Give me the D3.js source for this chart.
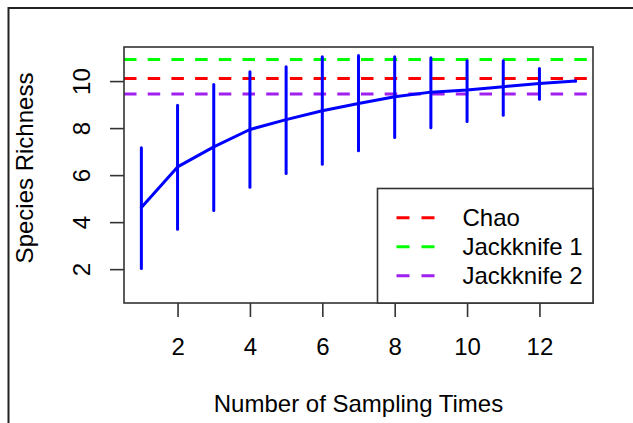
<!DOCTYPE html>
<html>
<head>
<meta charset="utf-8">
<script src="https://cdn.jsdelivr.net/npm/d3@7"></script>
<style>
  body { margin: 0; background: #fff; }
  svg text { font-family: "Liberation Sans", Arial, sans-serif; fill: #000; }
</style>
</head>
<body>
<svg id="chart" width="633" height="423"></svg>
<script>
// species accumulation: mean richness and error bar ends per sampling time
const samples = [1, 2, 3, 4, 5, 6, 7, 8, 9, 10, 11, 12, 13];
const richness = [4.62, 6.35, 7.2, 7.94, 8.36, 8.74, 9.05, 9.33, 9.53, 9.62, 9.76, 9.9, 10.0];
const lower = [2.03, 3.7, 4.5, 5.48, 6.07, 6.46, 7.04, 7.6, 8.02, 8.28, 8.55, 9.23, 10.0];
const upper = [7.16, 8.97, 9.86, 10.4, 10.61, 11.03, 11.09, 11.03, 10.99, 10.86, 10.86, 10.54, 10.0];

// richness estimators drawn as horizontal dashed lines
const estimators = ["Chao", "Jackknife 1", "Jackknife 2"];
const estimates = [10.11, 10.92, 9.45];
const estColors = ["#ff0000", "#00ff00", "#a020f0"];

const xTicks = [2, 4, 6, 8, 10, 12];
const yTicks = [2, 4, 6, 8, 10];

const svg = d3.select("#chart");
const fontSize = 24;
const box = { left: 124, right: 593, top: 47, bottom: 303 };

// R style 4% padding on x
const x = d3.scaleLinear()
    .domain([0.52, 13.48])
    .range([box.left, box.right]);

const y = d3.scaleLinear()
    .domain([0.56, 11.45])
    .range([box.bottom, box.top]);

// outer frame (runs off the right and bottom edges)
svg.append("rect")
    .attr("x", 8.5).attr("y", 8)
    .attr("width", 700).attr("height", 500)
    .attr("fill", "none")
    .attr("stroke", "#222")
    .attr("stroke-width", 2);

svg.append("clipPath").attr("id", "plotclip")
    .append("rect")
    .attr("x", box.left).attr("y", box.top)
    .attr("width", box.right - box.left)
    .attr("height", box.bottom - box.top);

const plot = svg.append("g").attr("clip-path", "url(#plotclip)");

// estimator lines
plot.selectAll(".est")
    .data(estimates)
    .enter()
    .append("line")
    .attr("class", "est")
    .attr("x1", box.left).attr("x2", box.right)
    .attr("y1", d => y(d)).attr("y2", d => y(d))
    .attr("stroke", (d, i) => estColors[i])
    .attr("stroke-width", 3)
    .attr("stroke-dasharray", "12.5,11.2");

// error bars
plot.selectAll(".bar")
    .data(samples)
    .enter()
    .append("line")
    .attr("class", "bar")
    .attr("x1", d => x(d)).attr("x2", d => x(d))
    .attr("y1", (d, i) => y(lower[i]))
    .attr("y2", (d, i) => y(upper[i]))
    .attr("stroke", "#0000ff")
    .attr("stroke-width", 3)
    .attr("stroke-linecap", "round");

// accumulation curve
const line = d3.line()
    .x(d => x(d))
    .y((d, i) => y(richness[i]));

plot.append("path")
    .datum(samples)
    .attr("d", line)
    .attr("fill", "none")
    .attr("stroke", "#0000ff")
    .attr("stroke-width", 3)
    .attr("stroke-linejoin", "round")
    .attr("stroke-linecap", "round");

// plot box
svg.append("rect")
    .attr("x", box.left).attr("y", box.top)
    .attr("width", box.right - box.left)
    .attr("height", box.bottom - box.top)
    .attr("fill", "none")
    .attr("stroke", "#333")
    .attr("stroke-width", 1.6);

// x axis
const xAxis = svg.append("g")
    .attr("transform", `translate(0,${box.bottom})`)
    .call(d3.axisBottom(x).tickValues(xTicks).tickSize(14).tickPadding(0).tickSizeOuter(0));
xAxis.select(".domain").remove();
xAxis.selectAll(".tick line").attr("stroke", "#333").attr("stroke-width", 1.6);
xAxis.selectAll(".tick text")
    .attr("y", 52)
    .attr("dy", null)
    .style("font-size", fontSize + "px");

// y axis, labels rotated like R's las = 0
const yAxis = svg.append("g")
    .attr("transform", `translate(${box.left},0)`)
    .call(d3.axisLeft(y).tickValues(yTicks).tickSize(14).tickSizeOuter(0));
yAxis.select(".domain").remove();
yAxis.selectAll(".tick line").attr("stroke", "#333").attr("stroke-width", 1.6);
yAxis.selectAll(".tick text")
    .attr("x", null).attr("dy", null)
    .attr("text-anchor", "middle")
    .attr("transform", "translate(-34.5,0) rotate(-90)")
    .style("font-size", fontSize + "px");

// axis titles
svg.append("text")
    .attr("x", (box.left + box.right) / 2)
    .attr("y", 411.5)
    .attr("text-anchor", "middle")
    .style("font-size", fontSize + "px")
    .text("Number of Sampling Times");

svg.append("text")
    .attr("transform", `translate(32.5,${168}) rotate(-90)`)
    .attr("text-anchor", "middle")
    .style("font-size", fontSize + "px")
    .text("Species Richness");

// legend, bottom right
const legend = svg.append("g");
legend.append("rect")
    .attr("x", 377.5).attr("y", 188.5)
    .attr("width", box.right - 377.5)
    .attr("height", box.bottom - 188.5)
    .attr("fill", "#fff")
    .attr("stroke", "#333")
    .attr("stroke-width", 1.6);

const rows = legend.selectAll(".row")
    .data(estimators)
    .enter()
    .append("g")
    .attr("class", "row")
    .attr("transform", (d, i) => `translate(0,${217.7 + i * 29})`);

rows.append("line")
    .attr("x1", 396.5).attr("x2", 436)
    .attr("stroke", (d, i) => estColors[i])
    .attr("stroke-width", 3)
    .attr("stroke-dasharray", "13,12");

rows.append("text")
    .attr("x", 462.5)
    .attr("y", 8.5)
    .style("font-size", fontSize + "px")
    .text(d => d);
</script>
</body>
</html>
